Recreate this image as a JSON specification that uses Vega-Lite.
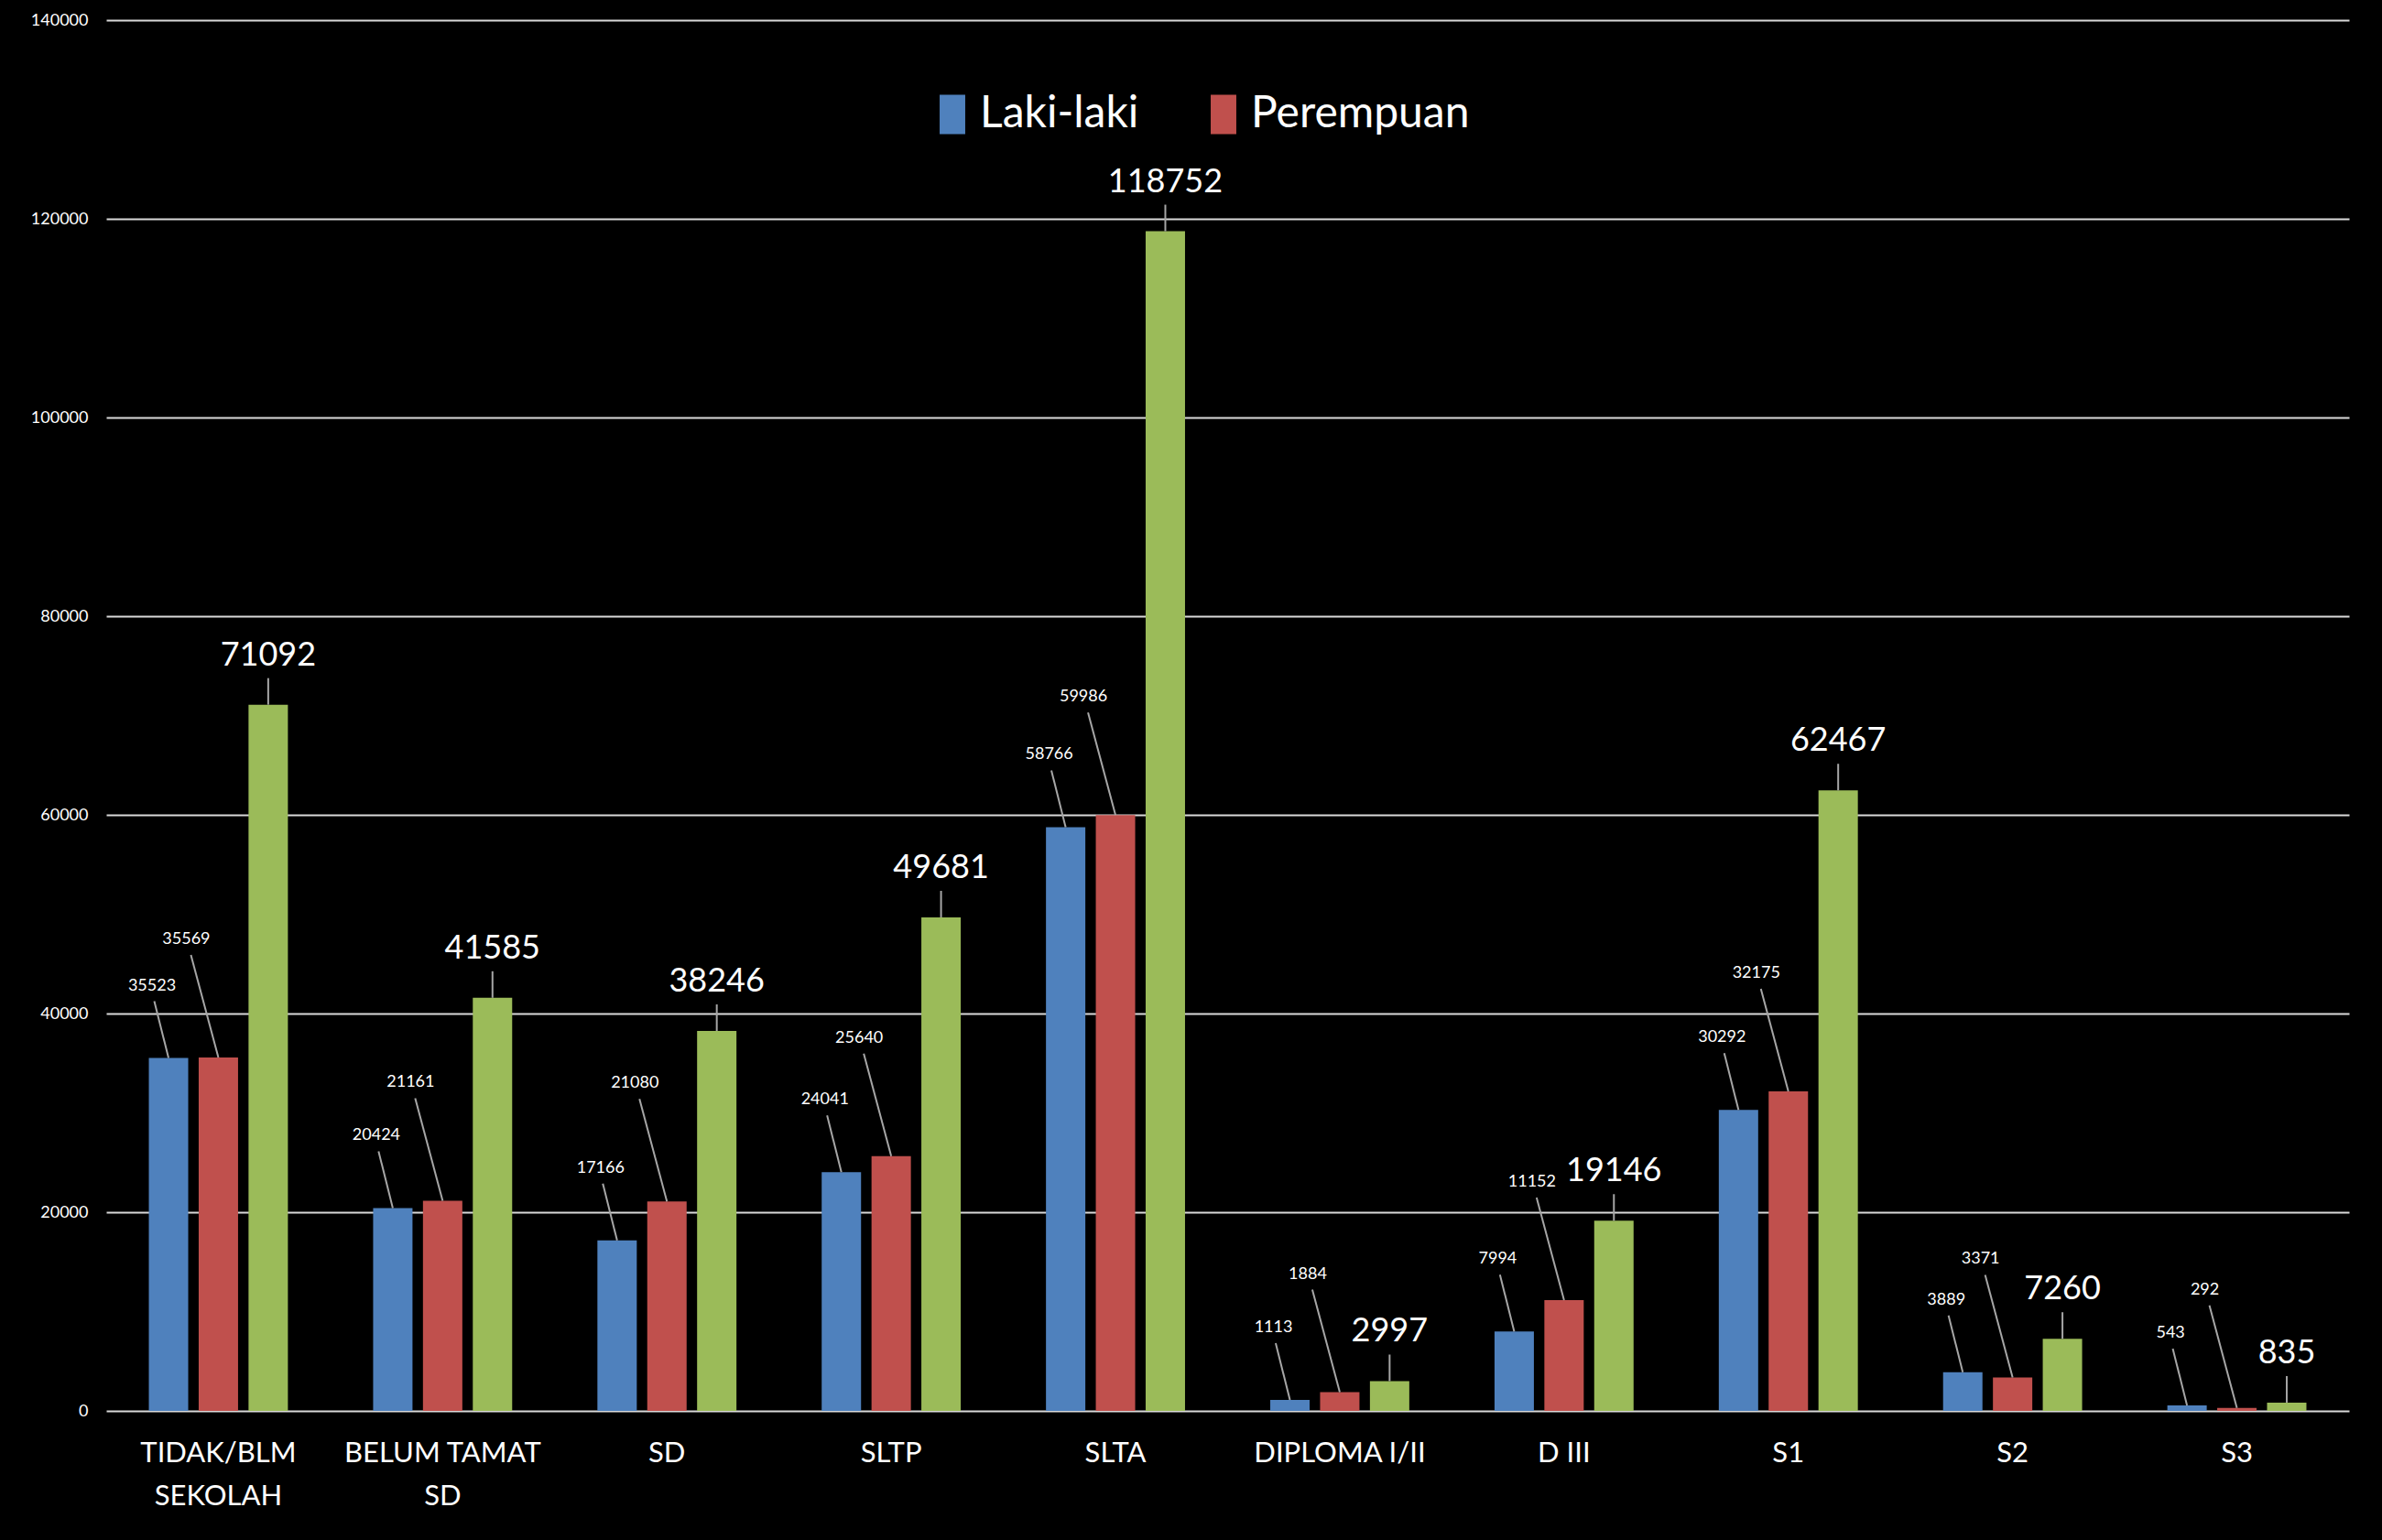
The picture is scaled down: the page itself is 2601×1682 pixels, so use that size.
{
  "$schema": "https://vega.github.io/schema/vega-lite/v6.json",
  "width": 2449,
  "height": 1519,
  "autosize": "none",
  "padding": {"left": 116, "top": 22, "right": 36, "bottom": 141},
  "background": "#000000",
  "config": {"view": {"stroke": null}, "font": "Lato"},
  "data": {
    "values": [
      {"pendidikan": "TIDAK/BLM SEKOLAH", "jenis": "Laki-laki", "nilai": 35523},
      {"pendidikan": "TIDAK/BLM SEKOLAH", "jenis": "Perempuan", "nilai": 35569},
      {"pendidikan": "TIDAK/BLM SEKOLAH", "jenis": "Jumlah", "nilai": 71092},
      {"pendidikan": "BELUM TAMAT SD", "jenis": "Laki-laki", "nilai": 20424},
      {"pendidikan": "BELUM TAMAT SD", "jenis": "Perempuan", "nilai": 21161},
      {"pendidikan": "BELUM TAMAT SD", "jenis": "Jumlah", "nilai": 41585},
      {"pendidikan": "SD", "jenis": "Laki-laki", "nilai": 17166},
      {"pendidikan": "SD", "jenis": "Perempuan", "nilai": 21080},
      {"pendidikan": "SD", "jenis": "Jumlah", "nilai": 38246},
      {"pendidikan": "SLTP", "jenis": "Laki-laki", "nilai": 24041},
      {"pendidikan": "SLTP", "jenis": "Perempuan", "nilai": 25640},
      {"pendidikan": "SLTP", "jenis": "Jumlah", "nilai": 49681},
      {"pendidikan": "SLTA", "jenis": "Laki-laki", "nilai": 58766},
      {"pendidikan": "SLTA", "jenis": "Perempuan", "nilai": 59986},
      {"pendidikan": "SLTA", "jenis": "Jumlah", "nilai": 118752},
      {"pendidikan": "DIPLOMA I/II", "jenis": "Laki-laki", "nilai": 1113},
      {"pendidikan": "DIPLOMA I/II", "jenis": "Perempuan", "nilai": 1884},
      {"pendidikan": "DIPLOMA I/II", "jenis": "Jumlah", "nilai": 2997},
      {"pendidikan": "D III", "jenis": "Laki-laki", "nilai": 7994},
      {"pendidikan": "D III", "jenis": "Perempuan", "nilai": 11152},
      {"pendidikan": "D III", "jenis": "Jumlah", "nilai": 19146},
      {"pendidikan": "S1", "jenis": "Laki-laki", "nilai": 30292},
      {"pendidikan": "S1", "jenis": "Perempuan", "nilai": 32175},
      {"pendidikan": "S1", "jenis": "Jumlah", "nilai": 62467},
      {"pendidikan": "S2", "jenis": "Laki-laki", "nilai": 3889},
      {"pendidikan": "S2", "jenis": "Perempuan", "nilai": 3371},
      {"pendidikan": "S2", "jenis": "Jumlah", "nilai": 7260},
      {"pendidikan": "S3", "jenis": "Laki-laki", "nilai": 543},
      {"pendidikan": "S3", "jenis": "Perempuan", "nilai": 292},
      {"pendidikan": "S3", "jenis": "Jumlah", "nilai": 835}
    ]
  },
  "encoding": {
    "x": {
      "field": "pendidikan",
      "type": "nominal",
      "title": null,
      "sort": ["TIDAK/BLM SEKOLAH", "BELUM TAMAT SD", "SD", "SLTP", "SLTA", "DIPLOMA I/II", "D III", "S1", "S2", "S3"],
      "scale": {
        "domain": ["TIDAK/BLM SEKOLAH", "BELUM TAMAT SD", "SD", "SLTP", "SLTA", "DIPLOMA I/II", "D III", "S1", "S2", "S3"],
        "paddingInner": 0.38,
        "paddingOuter": 0.19
      },
      "axis": {
        "labelAngle": 0,
        "domain": false,
        "ticks": false,
        "labelFont": "Lato",
        "labelFontSize": 31,
        "labelColor": "#ffffff",
        "labelPadding": 31,
        "labelBaseline": "top",
        "labelLineHeight": 47,
        "labelLimit": 400,
        "labelOverlap": false,
        "labelExpr": "datum.value === 'TIDAK/BLM SEKOLAH' ? ['TIDAK/BLM', 'SEKOLAH'] : datum.value === 'BELUM TAMAT SD' ? ['BELUM TAMAT', 'SD'] : datum.value"
      }
    },
    "xOffset": {
      "field": "jenis",
      "type": "nominal",
      "sort": ["Laki-laki", "Perempuan", "Jumlah"],
      "scale": {"domain": ["Laki-laki", "Perempuan", "Jumlah"], "paddingInner": 0.21, "paddingOuter": 0}
    },
    "y": {
      "field": "nilai",
      "type": "quantitative",
      "title": null,
      "scale": {"domain": [0, 140000], "nice": false},
      "axis": {
        "values": [0, 20000, 40000, 60000, 80000, 100000, 120000, 140000],
        "format": "d",
        "grid": true,
        "gridColor": "#d9d9d9",
        "gridWidth": 2,
        "domain": false,
        "ticks": false,
        "labelPadding": 20,
        "labelFont": "Lato",
        "labelFontSize": 18,
        "labelColor": "#ffffff"
      }
    }
  },
  "layer": [
    {
      "mark": {"type": "bar"},
      "encoding": {
        "color": {
          "field": "jenis",
          "type": "nominal",
          "scale": {"domain": ["Laki-laki", "Perempuan", "Jumlah"], "range": ["#4f81bd", "#c0504d", "#9bbb59"]},
          "legend": {
            "orient": "none",
            "legendX": 900,
            "legendY": 79,
            "direction": "horizontal",
            "values": ["Laki-laki", "Perempuan"],
            "title": null,
            "symbolType": "M-0.65,-1L0.65,-1L0.65,1L-0.65,1Z",
            "symbolSize": 1849,
            "symbolStrokeWidth": 0,
            "symbolOpacity": 1,
            "labelFont": "Lato",
            "labelFontSize": 48,
            "labelColor": "#ffffff",
            "labelOffset": 6,
            "labelLimit": 0,
            "columnPadding": 68,
            "padding": 0
          }
        }
      }
    },
    {
      "transform": [{"filter": "datum.jenis === 'Jumlah'"}],
      "mark": {"type": "rule", "color": "#a6a6a6", "strokeWidth": 2, "y2Offset": -29},
      "encoding": {"y2": {"field": "nilai"}}
    },
    {
      "transform": [{"filter": "datum.jenis === 'Laki-laki'"}],
      "mark": {"type": "rule", "color": "#a6a6a6", "strokeWidth": 2, "x2Offset": -70, "y2Offset": -62},
      "encoding": {"x2": {"field": "pendidikan"}, "y2": {"field": "nilai"}}
    },
    {
      "transform": [{"filter": "datum.jenis === 'Perempuan'"}],
      "mark": {"type": "rule", "color": "#a6a6a6", "strokeWidth": 2, "x2Offset": -30, "y2Offset": -112},
      "encoding": {"x2": {"field": "pendidikan"}, "y2": {"field": "nilai"}}
    },
    {
      "transform": [{"filter": "datum.jenis === 'Jumlah'"}],
      "mark": {"type": "text", "color": "#ffffff", "font": "Lato", "fontSize": 36, "baseline": "alphabetic", "align": "center", "dy": -43},
      "encoding": {"text": {"field": "nilai", "type": "quantitative", "format": "d"}}
    },
    {
      "transform": [{"filter": "datum.jenis === 'Laki-laki'"}],
      "mark": {"type": "text", "color": "#ffffff", "font": "Lato", "fontSize": 18, "baseline": "alphabetic", "align": "center", "dx": -18, "dy": -74},
      "encoding": {"text": {"field": "nilai", "type": "quantitative", "format": "d"}}
    },
    {
      "transform": [{"filter": "datum.jenis === 'Perempuan'"}],
      "mark": {"type": "text", "color": "#ffffff", "font": "Lato", "fontSize": 18, "baseline": "alphabetic", "align": "center", "dx": -35, "dy": -124},
      "encoding": {"text": {"field": "nilai", "type": "quantitative", "format": "d"}}
    }
  ]
}
